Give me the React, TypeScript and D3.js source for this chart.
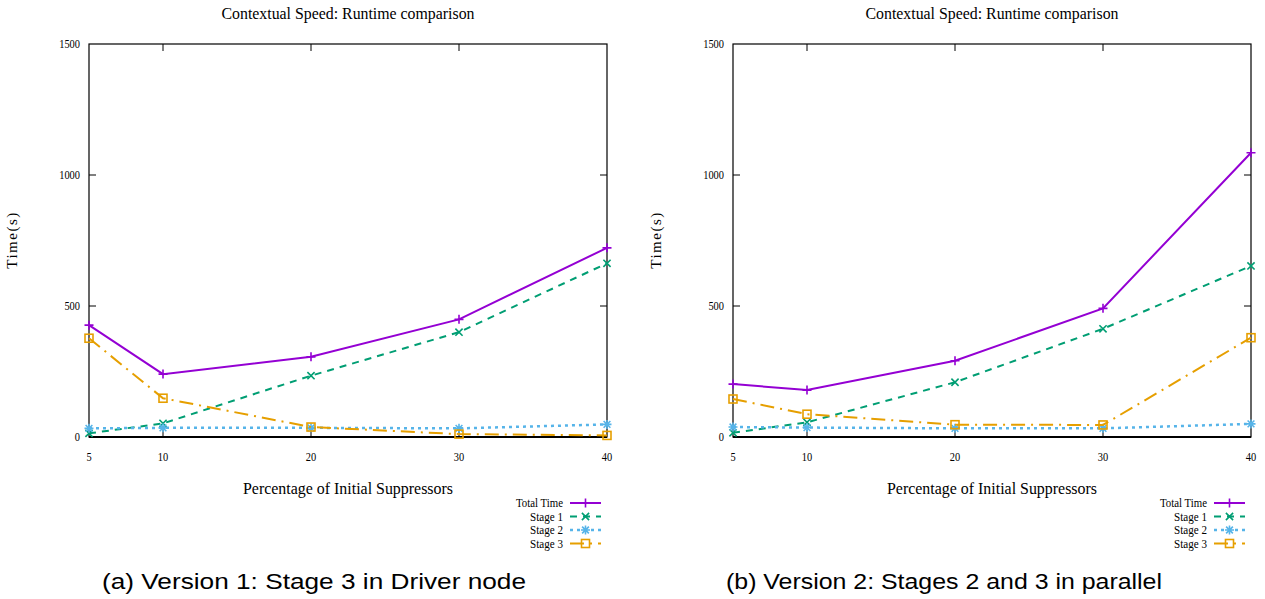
import * as d3 from 'd3';

const xValues = [5, 10, 20, 30, 40];
const xTicks = [5, 10, 20, 30, 40];
const yTicks = [0, 500, 1000, 1500];
const seriesNames = ['Total Time', 'Stage 1', 'Stage 2', 'Stage 3'];

const v1Total = [427, 240, 306, 449, 722];
const v1Stage1 = [14, 52, 234, 400, 663];
const v1Stage2 = [33, 35, 35, 33, 48];
const v1Stage3 = [377, 148, 38, 11, 6];

const v2Total = [202, 179, 291, 491, 1085];
const v2Stage1 = [16, 56, 209, 413, 653];
const v2Stage2 = [38, 36, 33, 33, 50];
const v2Stage3 = [145, 87, 47, 46, 379];

const title = 'Contextual Speed: Runtime comparison';
const captions = ['(a) Version 1: Stage 3 in Driver node', '(b) Version 2: Stages 2 and 3 in parallel'];

const styles = [
  { color: '#9400d3', dash: null, marker: 'plus', width: 2 },
  { color: '#009e73', dash: '7,6', marker: 'cross', width: 2 },
  { color: '#56b4e9', dash: '3,4', marker: 'star', width: 2.5 },
  { color: '#e69f00', dash: '14,6,2,6', marker: 'square', width: 2 },
];

const serif = '"Liberation Serif", "DejaVu Serif", serif';
const sans = '"Liberation Sans", Arial, sans-serif';

function Marker({ type, x, y, color }: { type: string; x: number; y: number; color: string }) {
  const s = 4.5;
  const sw = 1.6;
  if (type === 'plus') {
    return <path d={`M${x - s},${y}H${x + s}M${x},${y - s}V${y + s}`} stroke={color} strokeWidth={sw} />;
  }
  if (type === 'cross') {
    const c = s * 0.8;
    return <path d={`M${x - c},${y - c}L${x + c},${y + c}M${x - c},${y + c}L${x + c},${y - c}`} stroke={color} strokeWidth={sw} />;
  }
  if (type === 'star') {
    const c = s * 0.75;
    return (
      <path
        d={`M${x - s},${y}H${x + s}M${x},${y - s}V${y + s}M${x - c},${y - c}L${x + c},${y + c}M${x - c},${y + c}L${x + c},${y - c}`}
        stroke={color}
        strokeWidth={sw}
      />
    );
  }
  return <rect x={x - 4} y={y - 4} width={8} height={8} fill="none" stroke={color} strokeWidth={sw} />;
}

function Panel({ left, series, caption, capX, capW }: { left: number; series: number[][]; caption: string; capX: number; capW: number }) {
  const x0 = left;
  const x1 = left + 518;
  const yTop = 44;
  const yBot = 437;
  const x = d3.scaleLinear().domain([5, 40]).range([x0, x1]);
  const y = d3.scaleLinear().domain([0, 1500]).range([yBot, yTop]);
  const line = d3
    .line<number>()
    .x((_, i) => x(xValues[i]))
    .y((d) => y(d));
  const cx = (x0 + x1) / 2;
  const tick = 7;
  const legX = x1 - 37;

  return (
    <g>
      <text x={cx} y={19} textAnchor="middle" fontFamily={serif} fontSize={16} textLength={253} lengthAdjust="spacingAndGlyphs">
        {title}
      </text>

      {/* frame */}
      <rect x={x0} y={yTop} width={x1 - x0} height={yBot - yTop} fill="none" stroke="#000" strokeWidth={1.2} />
      <line x1={x0} x2={x1} y1={yBot} y2={yBot} stroke="#000" strokeWidth={2} />

      {yTicks.map((t) => (
        <g key={'y' + t}>
          {t > 0 && t < 1500 && (
            <>
              <line x1={x0} x2={x0 + tick} y1={y(t)} y2={y(t)} stroke="#000" />
              <line x1={x1} x2={x1 - tick} y1={y(t)} y2={y(t)} stroke="#000" />
            </>
          )}
          <text x={x0 - 9} y={y(t) + 4} textAnchor="end" fontFamily={serif} fontSize={12} textLength={String(t).length * 5.2} lengthAdjust="spacingAndGlyphs">
            {t}
          </text>
        </g>
      ))}
      {xTicks.map((t) => (
        <g key={'x' + t}>
          {t > 5 && t < 40 && (
            <>
              <line x1={x(t)} x2={x(t)} y1={yBot} y2={yBot - tick} stroke="#000" />
              <line x1={x(t)} x2={x(t)} y1={yTop} y2={yTop + tick} stroke="#000" />
            </>
          )}
          <text x={x(t)} y={461} textAnchor="middle" fontFamily={serif} fontSize={12} textLength={String(t).length * 5.2} lengthAdjust="spacingAndGlyphs">
            {t}
          </text>
        </g>
      ))}

      <text
        transform={`translate(${left - 72},240) rotate(-90)`}
        textAnchor="middle"
        fontFamily={serif}
        fontSize={15}
        letterSpacing={1.5}
      >
        Time(s)
      </text>
      <text x={cx} y={494} textAnchor="middle" fontFamily={serif} fontSize={17} textLength={210} lengthAdjust="spacingAndGlyphs">
        Percentage of Initial Suppressors
      </text>

      {series.map((vals, si) => {
        const st = styles[si];
        return (
          <g key={si}>
            <path d={line(vals) || ''} fill="none" stroke={st.color} strokeWidth={st.width} strokeDasharray={st.dash || undefined} />
            {vals.map((v, i) => (
              <Marker key={i} type={st.marker} x={x(xValues[i])} y={y(v)} color={st.color} />
            ))}
          </g>
        );
      })}

      {seriesNames.map((name, si) => {
        const st = styles[si];
        const ly = 503 + si * 13.5;
        return (
          <g key={name}>
            <text x={legX - 7} y={ly + 4} textAnchor="end" fontFamily={serif} fontSize={12} textLength={name.length * 4.7} lengthAdjust="spacingAndGlyphs">
              {name}
            </text>
            <line x1={legX} x2={legX + 31} y1={ly} y2={ly} stroke={st.color} strokeWidth={st.width} strokeDasharray={st.dash || undefined} />
            <Marker type={st.marker} x={legX + 15.5} y={ly} color={st.color} />
          </g>
        );
      })}

      <text x={capX} y={589} fontFamily={sans} fontSize={22} textLength={capW} lengthAdjust="spacingAndGlyphs">
        {caption}
      </text>
    </g>
  );
}

export default function App() {
  return (
    <svg width={1265} height={599} style={{ position: 'absolute', left: 0, top: 0, background: '#fff' }}>
      <Panel left={89} series={[v1Total, v1Stage1, v1Stage2, v1Stage3]} caption={captions[0]} capX={102} capW={424} />
      <Panel left={733} series={[v2Total, v2Stage1, v2Stage2, v2Stage3]} caption={captions[1]} capX={726} capW={436} />
    </svg>
  );
}
